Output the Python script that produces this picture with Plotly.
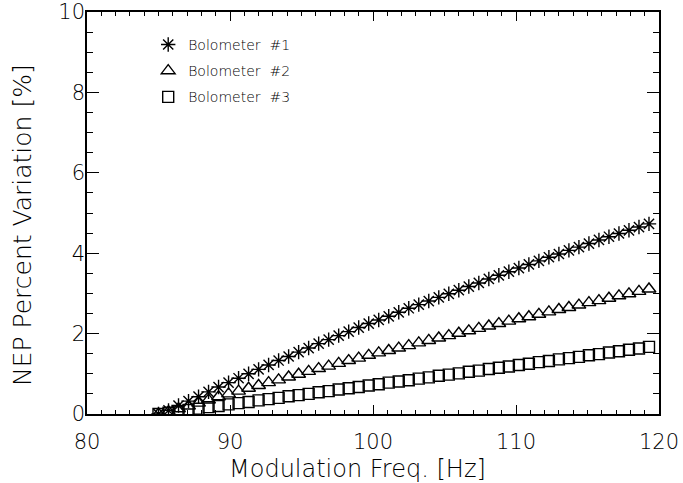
import numpy as np
import plotly.graph_objects as go

# Modulation frequency grid (Hz)
freq = [round(85 + 0.7 * k, 1) for k in range(50)]

# NEP percent variation [%]
bolo1 = [0.00, 0.09, 0.21, 0.32, 0.43, 0.55, 0.67, 0.78, 0.89, 1.00,
         1.11, 1.22, 1.33, 1.43, 1.54, 1.64, 1.75, 1.85, 1.95, 2.05,
         2.15, 2.25, 2.34, 2.43, 2.53, 2.63, 2.72, 2.81, 2.90, 2.99,
         3.08, 3.17, 3.26, 3.36, 3.45, 3.54, 3.63, 3.72, 3.81, 3.90,
         3.98, 4.07, 4.15, 4.24, 4.33, 4.41, 4.49, 4.57, 4.65, 4.73]
bolo2 = [0.00, 0.06, 0.13, 0.20, 0.27, 0.35, 0.43, 0.50, 0.57, 0.64,
         0.71, 0.78, 0.85, 0.92, 0.99, 1.06, 1.13, 1.19, 1.26, 1.33,
         1.39, 1.46, 1.52, 1.58, 1.64, 1.70, 1.77, 1.83, 1.89, 1.95,
         2.01, 2.07, 2.13, 2.19, 2.25, 2.31, 2.37, 2.42, 2.48, 2.54,
         2.60, 2.65, 2.71, 2.77, 2.82, 2.88, 2.94, 2.99, 3.05, 3.11]
bolo3 = [0.00, 0.03, 0.06, 0.10, 0.13, 0.17, 0.20, 0.24, 0.27, 0.30,
         0.34, 0.37, 0.40, 0.44, 0.47, 0.50, 0.54, 0.57, 0.61, 0.64,
         0.67, 0.71, 0.74, 0.78, 0.81, 0.84, 0.88, 0.91, 0.95, 0.98,
         1.01, 1.05, 1.08, 1.12, 1.15, 1.18, 1.22, 1.25, 1.29, 1.32,
         1.36, 1.39, 1.42, 1.46, 1.49, 1.53, 1.56, 1.60, 1.63, 1.67]

names = ["Bolometer  #1", "Bolometer  #2", "Bolometer  #3"]
symbols = ["asterisk-open", "triangle-up-open", "square-open"]
sizes = [12, 12, 11]
x_title = "Modulation Freq. [Hz]"
y_title = "NEP Percent Variation [%]"

FONT = "DejaVu Sans"
TXT = "black"
fig = go.Figure()
for i, (ys, nm, sym, sz) in enumerate(zip([bolo1, bolo2, bolo3], names, symbols, sizes)):
    fig.add_trace(go.Scatter(
        x=freq, y=ys, mode="markers", name=nm, legendgroup=f"g{i}",
        marker=dict(symbol=sym, size=sz, color="black",
                    line=dict(color="black", width=1.4)),
    ))

axis_common = dict(
    showline=True, linecolor="black", linewidth=1.5, mirror="ticks",
    ticks="inside", tickcolor="black", showgrid=False, zeroline=False,
    automargin=False,
    tickfont=dict(family=FONT, size=21, color=TXT, weight=200),
)
fig.update_xaxes(range=[80, 120], tickvals=[80, 90, 100, 110, 120], ticklen=9, tickwidth=1.2,
                 ticklabelstandoff=8,
                 minor=dict(dtick=1, ticklen=4, tickcolor="black", ticks="inside", tickwidth=1),
                 **axis_common)
fig.update_yaxes(range=[0, 10], tickvals=[0, 2, 4, 6, 8, 10], ticklen=12, tickwidth=1.2,
                 ticklabelstandoff=-4,
                 minor=dict(dtick=0.5, ticklen=6, tickcolor="black", ticks="inside", tickwidth=1),
                 **axis_common)
fig.add_annotation(text=x_title, xref="paper", yref="paper",
                   x=(357 - 87) / 572, y=-(469 - 414) / 402, xanchor="center", yanchor="middle",
                   showarrow=False, font=dict(family=FONT, size=24, color=TXT, weight=200))
fig.add_annotation(text=y_title, xref="paper", yref="paper", textangle=-90,
                   x=-(87 - 22) / 572, y=(414 - 225) / 402, xanchor="center", yanchor="middle",
                   showarrow=False, font=dict(family=FONT, size=25, color=TXT, weight=200))
fig.update_layout(
    width=683, height=483,
    margin=dict(l=87, r=24, t=12, b=69),
    plot_bgcolor="white", paper_bgcolor="white",
    legend=dict(x=0.107, y=0.958, xanchor="left", yanchor="top",
                bgcolor="rgba(0,0,0,0)", traceorder="grouped", tracegroupgap=5,
                font=dict(family=FONT, size=14, color=TXT, weight=200)),
)
fig.write_html("out.html")
